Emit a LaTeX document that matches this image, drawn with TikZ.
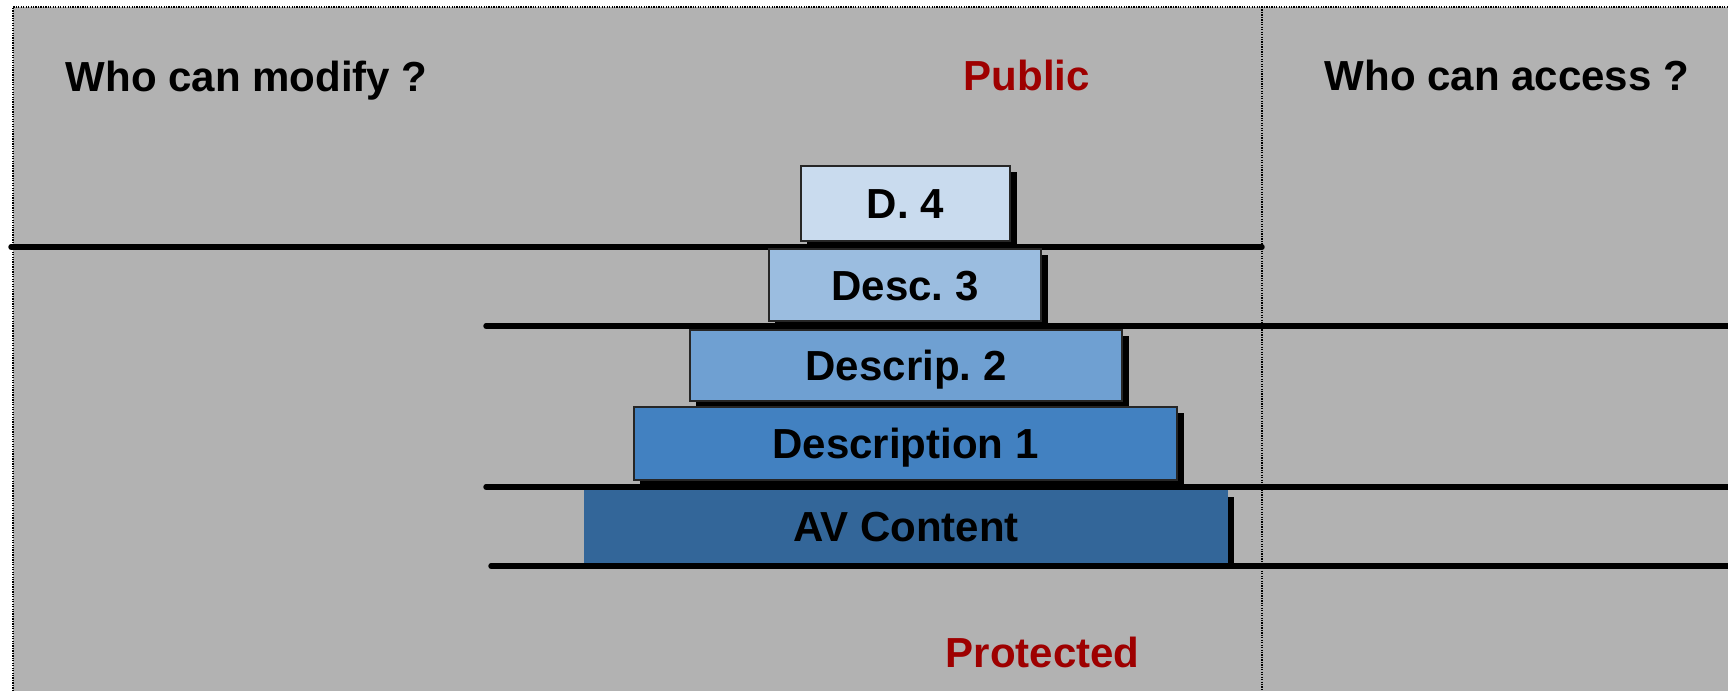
\documentclass[tikz,border=0pt]{standalone}
\usepackage{fontspec}
\setmainfont{Liberation Sans}
\usetikzlibrary{shadows}
\frenchspacing
\definecolor{bggray}{HTML}{B2B2B2}
\definecolor{darkred}{HTML}{9E0000}
\definecolor{tierA}{HTML}{C9DBEE}
\definecolor{tierB}{HTML}{9BBDE0}
\definecolor{tierC}{HTML}{6FA0D2}
\definecolor{tierD}{HTML}{4281C1}
\definecolor{tierE}{HTML}{336699}
\tikzset{
  lbl/.style={font=\fontsize{11.95}{14}\selectfont\bfseries, inner sep=0pt, anchor=base west},
  redlbl/.style={lbl, text=darkred},
  tier/.style={rectangle, inner sep=0pt, outer sep=0pt, draw=black!85, line width=0.5pt,
    font=\fontsize{11.95}{14}\selectfont\bfseries, text height=0.30cm, text depth=0pt,
    general shadow={fill=black, draw=none, shadow xshift=0.065cm, shadow yshift=-0.065cm}},
  divider/.style={line width=1.55pt, line cap=round, black},
  dotline/.style={line width=0.45pt, black, dash pattern=on 0.35pt off 0.35pt}
}
\begin{document}
\begin{tikzpicture}[x=0.01cm, y=-0.01cm]
\useasboundingbox (0,0) rectangle (1728,691);
\fill[white] (0,0) rectangle (1728,691);
\fill[bggray] (13,7) rectangle (1728,691);
% dotted borders
\coordinate (tl) at (13,7);
\coordinate (tr) at (1728,7);
\coordinate (bl) at (13,691);
\coordinate (vt) at (1262,7);
\coordinate (vb) at (1262,691);
\draw[dotline] (bl) -- (tl) -- (tr);
\draw[dotline] (vt) -- (vb);
% dividers
\coordinate (l1a) at (11,247);
\coordinate (l1b) at (1262,247);
\coordinate (l2a) at (486,326);
\coordinate (l2b) at (1728,326);
\coordinate (l3a) at (486,487);
\coordinate (l3b) at (1728,487);
\coordinate (l4a) at (491,566);
\coordinate (l4b) at (1728,566);
\draw[divider] (l1a) -- (l1b);
\draw[divider] (l2a) -- (l2b);
\draw[divider] (l3a) -- (l3b);
\draw[divider] (l4a) -- (l4b);
% tiers
\node[tier, fill=tierA, minimum width=2.09cm, minimum height=0.75cm] (d4) at (905.5,203.5) {D. 4};
\node[tier, fill=tierB, minimum width=2.72cm, minimum height=0.72cm] (d3) at (905,285) {Desc. 3};
\node[tier, fill=tierC, minimum width=4.32cm, minimum height=0.71cm] (d2) at (906,365.5) {Descrip. 2};
\node[tier, fill=tierD, minimum width=5.43cm, minimum height=0.73cm] (d1) at (905.5,443.5) {Description 1};
\node[tier, fill=tierE, draw=tierE, minimum width=6.42cm, minimum height=0.71cm] (av) at (906,526.5) {AV Content};
% labels
\node[lbl] (modify) at (65,92) {Who can modify ?};
\node[redlbl] (public) at (963,91) {Public};
\node[lbl] (access) at (1324,91) {Who can access ?};
\node[redlbl] (protected) at (945,667) {Protected};
\end{tikzpicture}
\end{document}
